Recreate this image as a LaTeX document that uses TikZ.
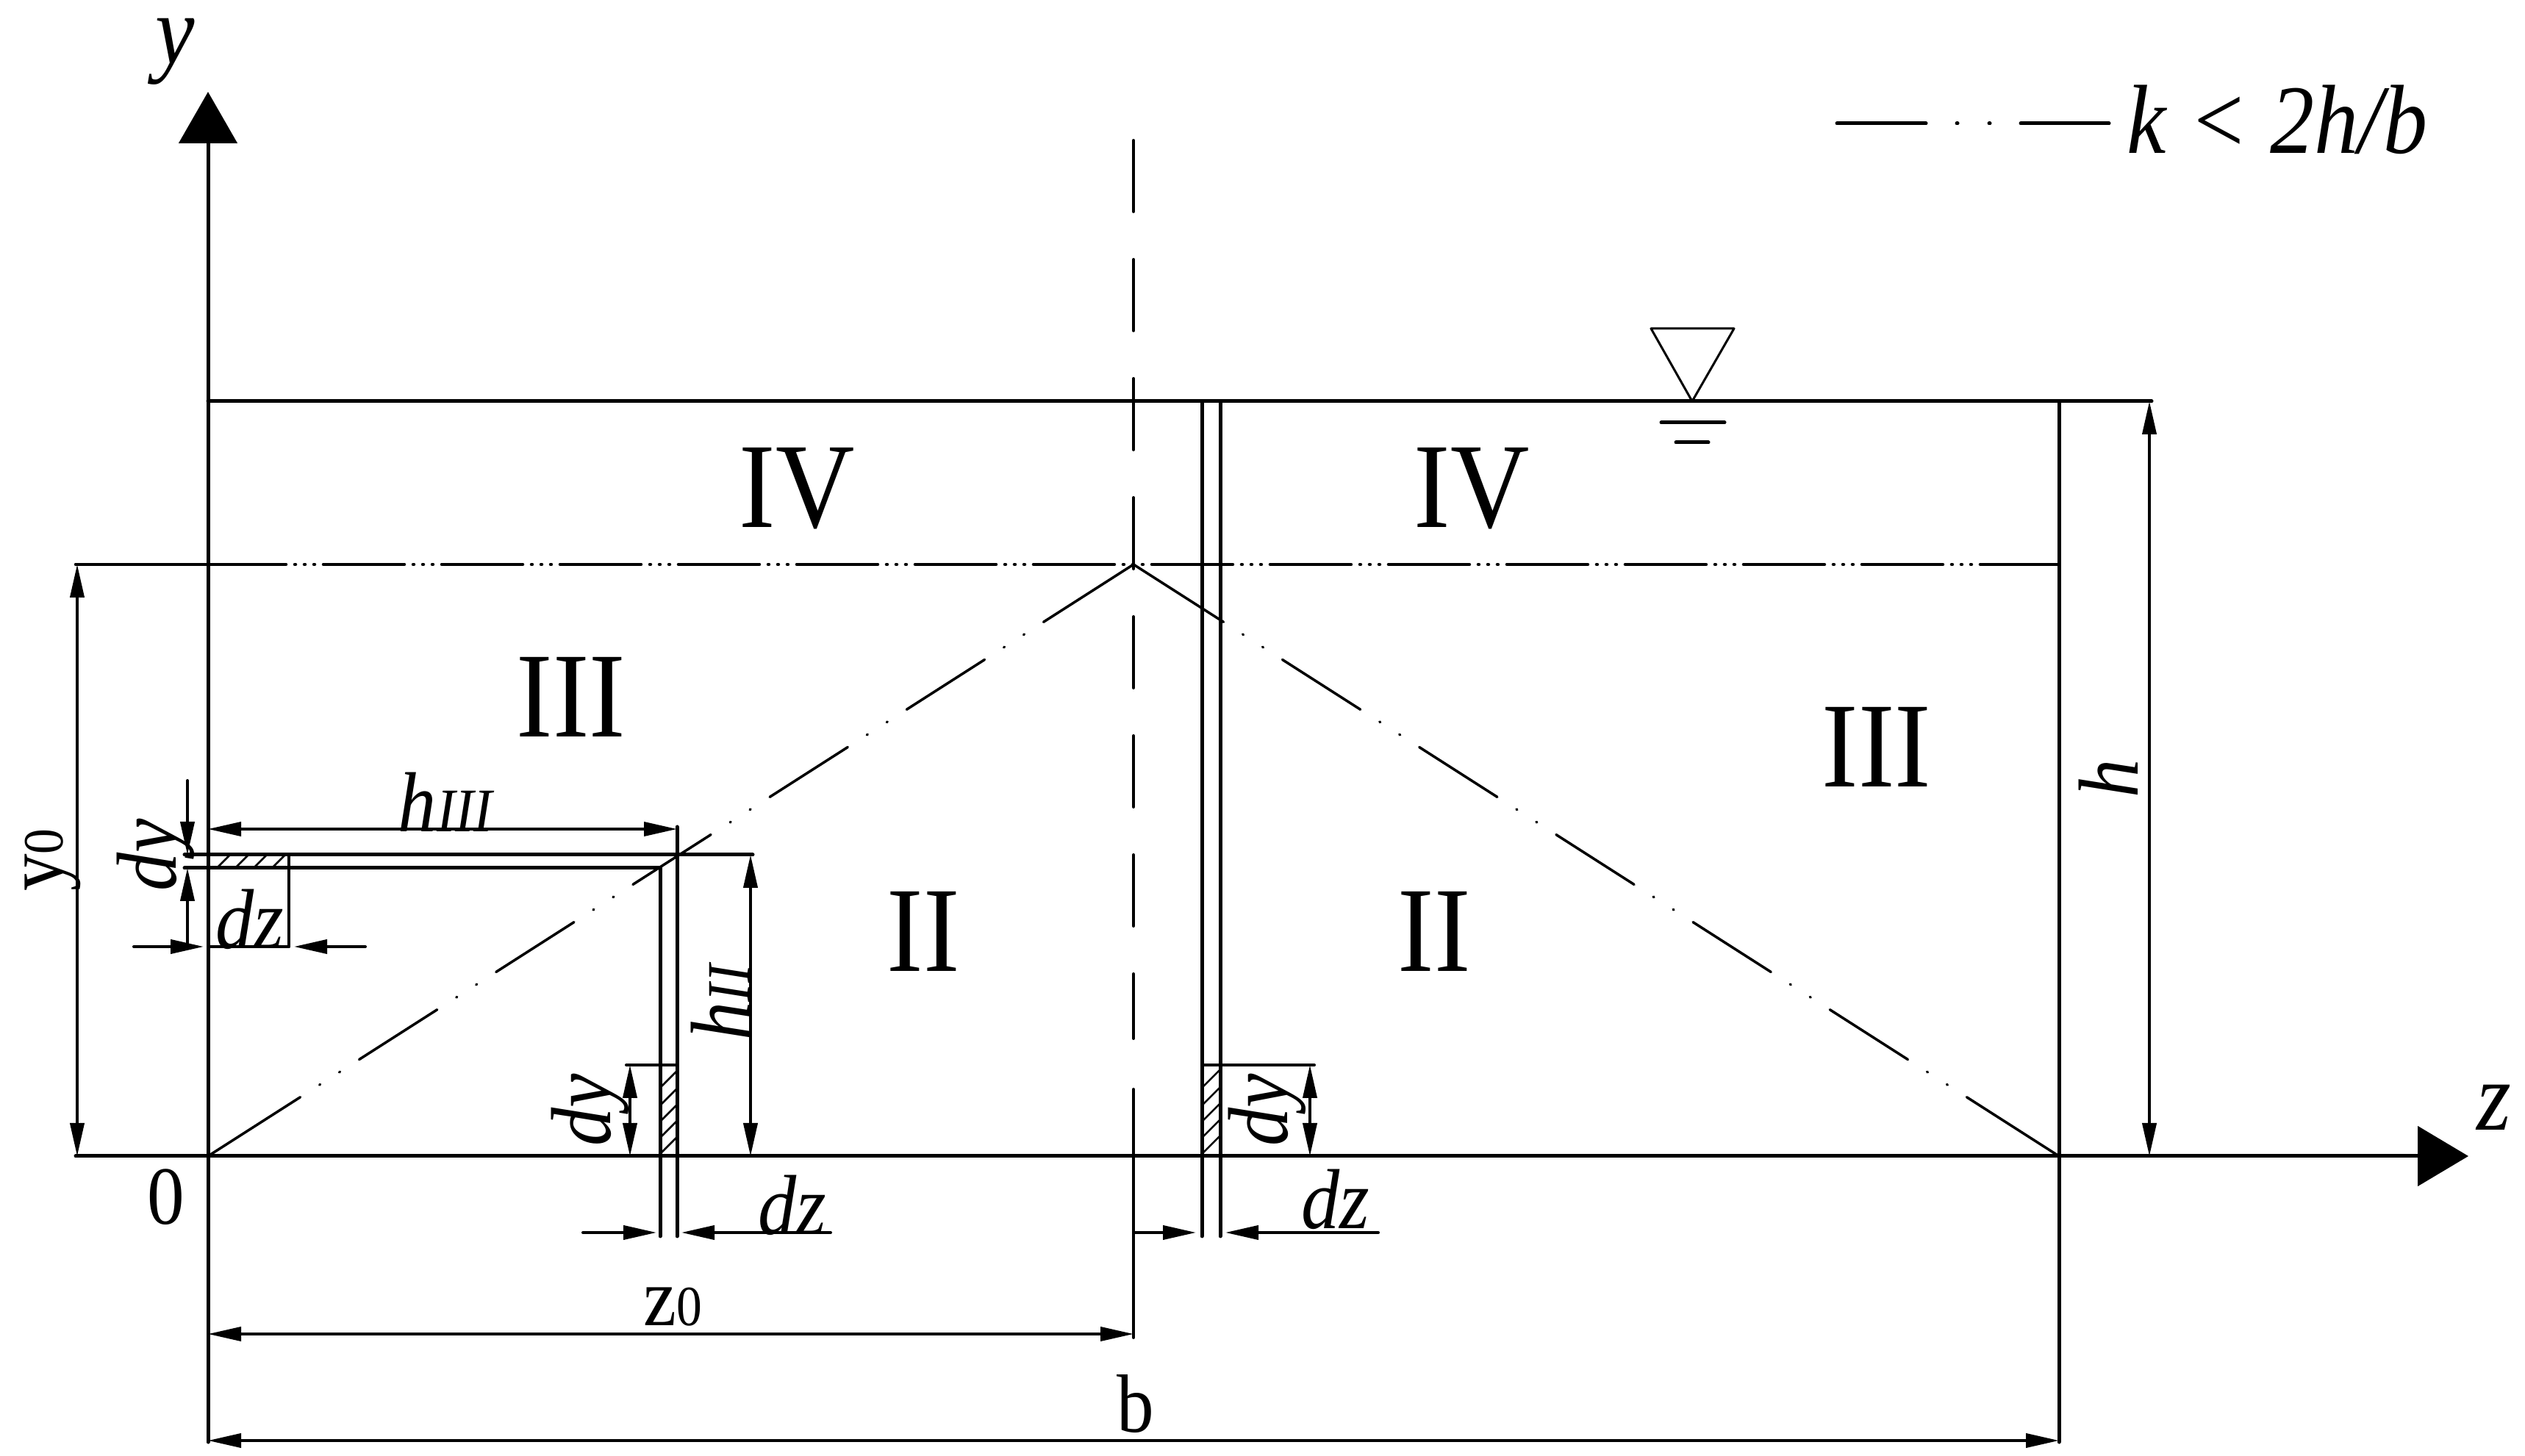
\documentclass[tikz,border=0pt]{standalone}
\usepackage{fontspec}
\setmainfont[FakeStretch=0.9]{Liberation Serif}
\usetikzlibrary{arrows.meta}
\tikzset{
	mainline/.style={line width=0.05cm},
	dimline/.style={line width=0.04cm},
	itlab/.style={inner sep=0pt,font=\fontsize{33}{33}\selectfont\itshape},
	axlab/.style={inner sep=0pt,font=\fontsize{38}{38}\selectfont\itshape},
	uplab/.style={inner sep=0pt,font=\fontsize{32}{32}\selectfont},
	romlab/.style={inner sep=0pt,font=\fontsize{47}{47}\selectfont},
	diagline/.style={line width=0.035cm,dash pattern=on 1.49cm off .31cm on .01cm off .31cm on .01cm off .31cm on 1.26cm off .31cm on .01cm off .31cm on .01cm off .31cm on 1.26cm off .31cm on .01cm off .31cm on .01cm off .31cm on 1.26cm off .31cm on .01cm off .31cm on .01cm off .31cm on 1.26cm off .31cm on .01cm off .31cm on .01cm off .31cm on 1.26cm off .31cm on .01cm off .31cm on .01cm off .31cm on 1.6cm},
	midline/.style={line width=0.045cm,dash pattern=on 1.10cm off .12cm on .01cm off .12cm on .01cm off .12cm on .01cm off .12cm}
}
\begin{document}
\begin{tikzpicture}[line cap=round,line join=round,>={Triangle[length=.45cm,width=.19cm]},x=1.0cm,y=1.0cm]
	\useasboundingbox (0,0) rectangle (34.35,19.80);
	% main points
	\coordinate (O) at (2.83,4.07);
	\coordinate (yTip) at (2.83,18.55);
	\coordinate (yEnd) at (2.83,0.18);
	\coordinate (zTip) at (33.58,4.07);
	\coordinate (zEnd) at (1.03,4.07);
	\coordinate (apex) at (15.42,12.12);
	\coordinate (foot) at (28.01,4.07);
	\coordinate (footTop) at (28.01,14.34);
	\coordinate (footEnd) at (28.01,0.18);
	\coordinate (topL) at (2.83,14.34);
	\coordinate (topR) at (29.27,14.34);
	\coordinate (hBot) at (29.24,4.07);
	\coordinate (midL) at (1.03,12.12);
	\coordinate (midS) at (2.79,12.12);
	\coordinate (midR) at (28.01,12.12);
	% axes
	\draw [mainline,-{Triangle[length=.70cm,width=.79cm]}] (yEnd)-- (yTip);
	\draw [mainline,-{Triangle[length=.69cm,width=.81cm]}] (zEnd)-- (zTip);
	% outline
	\draw [mainline] (topL)-- (topR);
	\draw [mainline] (footTop)-- (footEnd);
	\draw [line width=0.045cm] (midL)-- (midS);
	\draw [midline] (midS)-- (midR);
	\draw [diagline] (O)-- (apex);
	\draw [diagline] (foot)-- (apex);
	% centre line
	\draw [dimline,dash pattern=on .97cm off .65cm] (15.42,17.89)-- (15.42,5.67);
	\draw [dimline] (15.42,4.98)-- (15.42,1.60);
	% strip on the right
	\draw [mainline] (16.35,14.34)-- (16.35,2.98);
	\draw [mainline] (16.60,14.34)-- (16.60,2.98);
	\draw [dimline] (16.35,5.31)-- (17.88,5.31);
	\foreach \yy in {6.0,5.76,5.54,5.32,5.1} {
		\draw [line width=0.025cm] (16.35,\yy-1)-- (16.60,\yy-.75);
	}
	% strip on the left
	\draw [mainline] (8.98,7.99)-- (8.98,2.98);
	\draw [mainline] (9.21,8.55)-- (9.21,2.98);
	\draw [dimline] (8.52,5.31)-- (9.21,5.31);
	\foreach \yy in {6.0,5.76,5.54,5.32,5.1} {
		\draw [line width=0.025cm] (8.98,\yy-1)-- (9.21,\yy-.77);
	}
	% horizontal strip
	\draw [mainline] (2.51,8.17)-- (10.24,8.17);
	\draw [mainline] (2.51,7.99)-- (8.98,7.99);
	\draw [dimline] (3.93,8.17)-- (3.93,6.92);
	\foreach \xx in {2.95,3.20,3.45,3.70} {
		\draw [line width=0.025cm] (\xx,7.99)-- (\xx+.18,8.17);
	}
	% dimensions
	\draw [dimline,<->] (1.05,12.12)-- (1.05,4.07);
	\draw [dimline,<->] (29.24,14.34)-- (hBot);
	\draw [dimline,<->] (2.83,8.52)-- (9.21,8.52);
	\draw [dimline,<->] (10.21,8.17)-- (10.21,4.07);
	\draw [dimline,<->] (8.57,5.31)-- (8.57,4.07);
	\draw [dimline,<->] (17.82,5.31)-- (17.82,4.07);
	\draw [dimline,<->] (2.83,1.65)-- (15.42,1.65);
	\draw [dimline,<->] (2.83,0.20)-- (28.01,0.20);
	\draw [dimline,->] (2.55,9.18)-- (2.55,8.17);
	\draw [dimline,->] (2.55,6.92)-- (2.55,7.99);
	\draw [dimline,->] (1.82,6.92)-- (2.77,6.92);
	\draw [dimline,->] (4.97,6.92)-- (4.00,6.92);
	\draw [dimline,->] (7.93,3.03)-- (8.93,3.03);
	\draw [dimline,->] (11.30,3.03)-- (9.27,3.03);
	\draw [dimline,->] (15.42,3.03)-- (16.27,3.03);
	\draw [dimline,->] (18.75,3.03)-- (16.67,3.03);
	\draw [dimline] (2.83,6.92)-- (3.93,6.92);
	% water level
	\draw [line width=0.03cm] (22.46,15.33)-- (23.59,15.33)-- (23.02,14.34)-- cycle;
	\draw [mainline] (22.60,14.05)-- (23.46,14.05);
	\draw [mainline] (22.80,13.78)-- (23.24,13.78);
	% legend
	\draw [mainline,dash pattern=on 1.21cm off .42cm on .01cm off .43cm on .01cm off .42cm on 1.20cm] (24.99,18.12)-- (28.69,18.12);
	\node[inner sep=0pt,font=\fontsize{38}{38}\selectfont\itshape] (legend) at (30.98,18.17) {k < 2h/b};
	% labels
	\node[axlab] (ylab) at (2.38,19.10) {y};
	\node[axlab] (zlab) at (33.93,4.73) {z};
	\node[uplab] (zero) at (2.26,3.51) {0};
	\node[uplab] (zzero) at (9.15,2.02) {z{\fontsize{22}{22}\selectfont 0}};
	\node[uplab] (blab) at (15.45,0.70) {b};
	\node[uplab,rotate=90] (yzero) at (0.72,8.10) {y{\fontsize{22}{22}\selectfont 0}};
	\node[itlab,rotate=90] (hlab) at (28.68,9.21) {h};
	\node[itlab] (hthree) at (6.06,8.89) {h{\fontsize{24}{24}\selectfont III}};
	\node[itlab,rotate=90] (htwo) at (9.80,6.16) {h{\fontsize{24}{24}\selectfont II}};
	\node[itlab,rotate=90] (dya) at (2.12,8.17) {dy};
	\node[itlab] (dza) at (3.40,7.29) {dz};
	\node[itlab,rotate=90] (dyb) at (8.03,4.70) {dy};
	\node[itlab] (dzb) at (10.78,3.40) {dz};
	\node[itlab,rotate=90] (dyc) at (17.24,4.70) {dy};
	\node[itlab] (dzc) at (18.17,3.48) {dz};
	\node[romlab] (fourL) at (10.84,13.15) {IV};
	\node[romlab] (fourR) at (20.02,13.15) {IV};
	\node[romlab] (threeL) at (7.77,10.32) {III};
	\node[romlab] (threeR) at (25.53,9.64) {III};
	\node[romlab] (twoL) at (12.56,7.13) {II};
	\node[romlab] (twoR) at (19.51,7.13) {II};
\end{tikzpicture}
\end{document}
